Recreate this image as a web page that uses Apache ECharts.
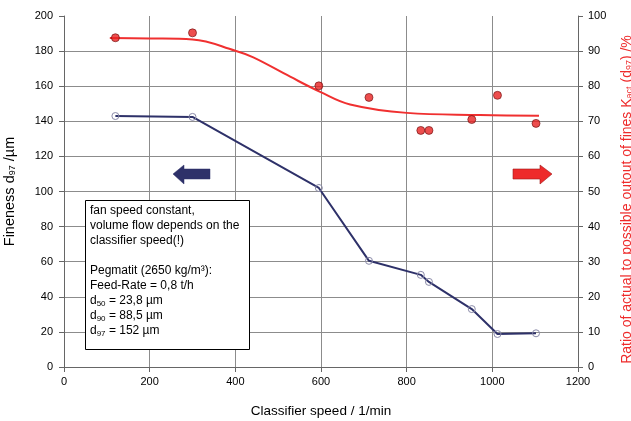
<!DOCTYPE html>
<html><head><meta charset="utf-8">
<script src="https://cdn.jsdelivr.net/npm/echarts@6/dist/echarts.min.js"></script>
<style>html,body{margin:0;padding:0;background:#fff}#c{width:631px;height:421px}</style>
</head><body><div id="c"></div>
<script>
// Fineness d97 (left axis)
const speedFineness = [120, 300, 595, 712, 833, 852, 952, 1012, 1102];
const fineness = [143, 142.5, 102, 60.5, 52.5, 48.5, 33, 18.8, 19.2];
// Ratio measurements (right axis)
const speedRatio = [120, 300, 595, 712, 833, 852, 952, 1012, 1102];
const ratio = [93.8, 95.2, 80.1, 76.8, 67.4, 67.4, 70.5, 77.4, 69.4];
// Ratio trend curve (right axis)
const trendSpeed = [107, 200, 300, 400, 442, 528, 598, 668, 800, 971, 1109];
const trendRatio = [93.7, 93.6, 93.3, 90.1, 88.2, 82.7, 78.4, 74.8, 72.4, 71.8, 71.6];
// tick settings
const xTicks = {min: 0, max: 1200, interval: 200};
const yLeftTicks = {min: 0, max: 200, interval: 20};
const yRightTicks = {min: 0, max: 100, interval: 10};

const FONT = 'Liberation Sans, Arial, sans-serif';
const chart = echarts.init(document.getElementById('c'), null, {renderer: 'canvas'});
const gridColors = ['transparent','#8c8c8c','#8c8c8c','#8c8c8c','#8c8c8c','#8c8c8c','#8c8c8c','#8c8c8c','#8c8c8c','#8c8c8c','transparent'];
const zip = (a, b) => a.map((v, i) => [v, b[i]]);
const plain = v => String(v);

chart.setOption({
  animation: false,
  backgroundColor: '#fff',
  textStyle: {fontFamily: FONT},
  grid: {left: 64, right: 53, top: 16, bottom: 54, containLabel: false, outerBoundsMode: 'none'},
  title: {
    left: 85, top: 200,
    padding: [3, 10, 12, 5],
    borderColor: '#000', borderWidth: 1, backgroundColor: '#fff',
    text: 'fan speed constant,\nvolume flow depends on the\nclassifier speed(!)\n \nPegmatit (2650 kg/m³):\nFeed-Rate = 0,8 t/h\nd{s|50} = 23,8 µm\nd{s|90} = 88,5 µm\nd{s|97} = 152 µm',
    textStyle: {
      fontFamily: FONT, fontSize: 12, fontWeight: 'normal', color: '#000', lineHeight: 15,
      rich: {s: {fontSize: 8, verticalAlign: 'bottom', lineHeight: 11, fontFamily: FONT, color: '#000'}}
    }
  },
  xAxis: {
    type: 'value', min: xTicks.min, max: xTicks.max, interval: xTicks.interval,
    name: 'Classifier speed / 1/min', nameLocation: 'middle', nameGap: 37,
    nameTextStyle: {fontFamily: FONT, fontSize: 13.5, color: '#000'},
    axisLine: {show: true, lineStyle: {color: '#666', width: 1}},
    axisTick: {show: true, inside: false, length: 5, lineStyle: {color: '#666'}},
    axisLabel: {fontFamily: FONT, fontSize: 11, color: '#000', margin: 9, formatter: plain},
    splitLine: {show: true, lineStyle: {color: '#8c8c8c', width: 1}}
  },
  yAxis: [{
    type: 'value', position: 'left', min: yLeftTicks.min, max: yLeftTicks.max, interval: yLeftTicks.interval,
    name: 'Fineness d{s|97} /µm', nameLocation: 'middle', nameGap: 47, nameRotate: 90,
    nameTextStyle: {fontFamily: FONT, fontSize: 14.5, color: '#000',
      rich: {s: {fontSize: 9, verticalAlign: 'bottom', fontFamily: FONT, color: '#000'}}},
    axisLine: {show: true, lineStyle: {color: '#666', width: 1}},
    axisTick: {show: true, inside: false, length: 5, lineStyle: {color: '#666'}},
    axisLabel: {fontFamily: FONT, fontSize: 11, color: '#000', margin: 11, formatter: plain},
    splitLine: {show: true, lineStyle: {color: gridColors, width: 1}}
  }, {
    type: 'value', position: 'right', min: yRightTicks.min, max: yRightTicks.max, interval: yRightTicks.interval,
    name: 'Ratio of actual to possible outout of fines K{s|act} (d{s|97}) /%', nameLocation: 'middle', nameGap: 42, nameRotate: 90,
    nameTextStyle: {fontFamily: FONT, fontSize: 14, color: '#ee2b2b', padding: [0, 16, 0, 0],
      rich: {s: {fontSize: 9, verticalAlign: 'bottom', fontFamily: FONT, color: '#ee2b2b'}}},
    axisLine: {show: true, lineStyle: {color: '#666', width: 1}},
    axisTick: {show: true, inside: false, length: 5, lineStyle: {color: '#666'}},
    axisLabel: {fontFamily: FONT, fontSize: 11, color: '#000', margin: 10, formatter: plain},
    splitLine: {show: false}
  }],
  series: [{
    type: 'line', name: 'fineness', xAxisIndex: 0, yAxisIndex: 0,
    data: zip(speedFineness, fineness),
    lineStyle: {color: '#2e3169', width: 2},
    symbol: 'circle', symbolSize: 7,
    itemStyle: {color: 'rgba(255,255,255,0)', borderColor: '#8a8aa8', borderWidth: 1},
    z: 3
  }, {
    type: 'line', name: 'trend', xAxisIndex: 0, yAxisIndex: 1,
    data: zip(trendSpeed, trendRatio), smooth: 0.4,
    showSymbol: false, symbol: 'none',
    lineStyle: {color: '#f03030', width: 2},
    z: 3
  }, {
    type: 'scatter', name: 'ratio', xAxisIndex: 0, yAxisIndex: 1,
    data: zip(speedRatio, ratio),
    symbol: 'circle', symbolSize: 8,
    itemStyle: {color: '#e82222', borderColor: '#6a0c0c', borderWidth: 0.8},
    z: 4
  }],
  graphic: [{
    type: 'polygon', z: 10,
    shape: {points: [[173,174],[184,165],[184,169],[210,169],[210,179],[184,179],[184,184]]},
    style: {fill: '#2e3169', stroke: '#2e3169', lineWidth: 0.5}
  }, {
    type: 'polygon', z: 10,
    shape: {points: [[513,169],[540,169],[540,165],[552,174],[540,184],[540,179],[513,179]]},
    style: {fill: '#ee2b2b', stroke: '#a01818', lineWidth: 0.6}
  }]
});
</script></body></html>
